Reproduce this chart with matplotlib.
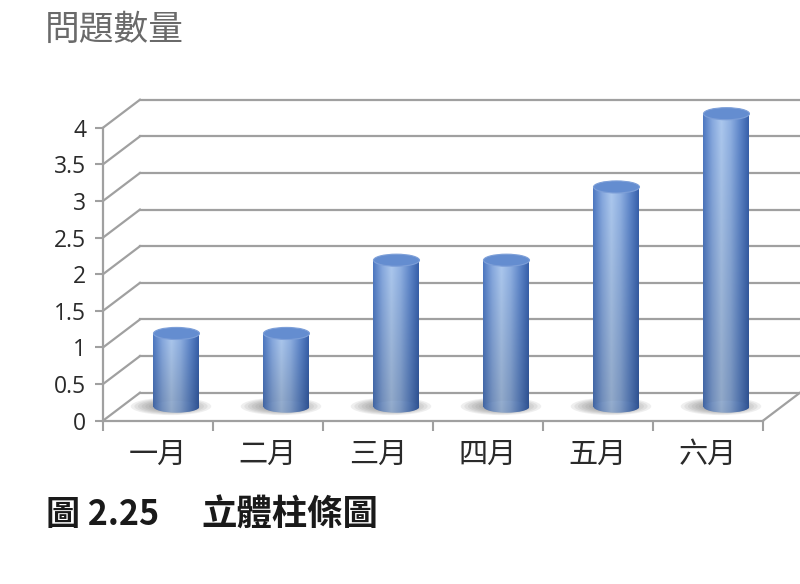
import numpy as np
import matplotlib
matplotlib.use("Agg")
import matplotlib.pyplot as plt
from matplotlib.patches import Rectangle, Ellipse
from matplotlib.colors import LinearSegmentedColormap

plt.rcParams['font.family'] = ['Noto Sans CJK TC', 'DejaVu Sans']

# ---- data ----
categories = ['一月', '二月', '三月', '四月', '五月', '六月']
values = [1, 1, 2, 2, 3, 4]
yticks = [0, 0.5, 1, 1.5, 2, 2.5, 3, 3.5, 4]
ytick_labels = ['0', '0.5', '1', '1.5', '2', '2.5', '3', '3.5', '4']
title_text = '問題數量'
caption_num = '圖 2.25'
caption_text = '立體柱條圖'

# ---- style / geometry ----
DX, DY = 0.336, 0.382        # depth offset (data units)
W = 0.418                    # cylinder width
EH = 0.165                   # ellipse height
grid_c = '#a0a0a0'

fig = plt.figure(figsize=(8, 5.84), dpi=100)
ax = fig.add_axes([103/800, (584-420.7)/584, 660/800, 293/584])
n = len(categories)
ax.set_xlim(0, n)
ax.set_ylim(0, 4)

# back wall grid + left diagonals
for v in yticks:
    ax.plot([DX, n + DX], [v + DY, v + DY], color=grid_c, lw=1.6, clip_on=False, zorder=1)
    ax.plot([0, DX], [v, v + DY], color=grid_c, lw=1.6, clip_on=False, zorder=1)
# floor right diagonal
ax.plot([n, n + DX], [0, DY], color=grid_c, lw=1.6, clip_on=False, zorder=1)

# gradient colormap for cylinders
hcmap = LinearSegmentedColormap.from_list(
    'cyl', ['#4d78c2', '#86a8de', '#acc8ee', '#8fb0e2', '#6088cb', '#3760ab'])
hx = np.linspace(0, 1, 200)
hcols = hcmap(hx)[:, :3]
vy = np.linspace(0, 1, 100)[:, None, None]   # 0 bottom ... 1 top
img = hcols[None, :, :] * (0.84 + 0.16 * vy)
img = np.clip(img, 0, 1)

for i, v in enumerate(values):
    c = i + 0.5 + DX / 2
    base = DY / 2
    top = v + DY / 2
    # shadow
    for k in range(8):
        s = 1 - k * 0.09
        ax.add_patch(Ellipse((c - 0.05, base + 0.005), W * 1.75 * s, EH * 1.45 * s,
                             facecolor='#6e6e6e', alpha=0.11, lw=0, zorder=2,
                             clip_on=False))
    # body
    rect = Rectangle((c - W / 2, base), W, top - base, transform=ax.transData)
    im = ax.imshow(img, extent=[c - W / 2, c + W / 2, base, top], origin='lower',
                   aspect='auto', zorder=3, interpolation='bilinear')
    im.set_clip_path(rect)
    # bottom ellipse
    ell = Ellipse((c, base), W, EH, transform=ax.transData)
    im2 = ax.imshow(img[:20], extent=[c - W / 2, c + W / 2, base - EH / 2, base + EH / 2],
                    origin='lower', aspect='auto', zorder=3, interpolation='bilinear')
    im2.set_clip_path(ell)
    # top ellipse
    ax.add_patch(Ellipse((c, top), W, EH, facecolor='#648dd0', edgecolor='#7d9fd8',
                         lw=0.8, zorder=4, clip_on=False))

ax.set_xlim(0, n)
ax.set_ylim(0, 4)

# spines / ticks
for s in ['top', 'right']:
    ax.spines[s].set_visible(False)
for s in ['left', 'bottom']:
    ax.spines[s].set_color(grid_c)
    ax.spines[s].set_linewidth(1.6)
    ax.spines[s].set_zorder(5)
ax.patch.set_visible(False)

ax.set_yticks(yticks)
ax.set_yticklabels(ytick_labels, family=['Open Sans', 'DejaVu Sans'])
ax.tick_params(axis='y', length=6, width=1.5, color=grid_c, pad=6,
               labelsize=16.5, labelcolor='#2a2a2a')

ax.set_xticks(np.arange(n) + 0.5)
ax.set_xticklabels(categories)
ax.set_xticks(np.arange(n + 1), minor=True)
ax.tick_params(axis='x', which='major', length=0, pad=14, labelsize=21,
               labelcolor='#2a2a2a')
ax.tick_params(axis='x', which='minor', length=7, width=1.5, color=grid_c)

# title and caption
fig.text(45/800, 1 - 30/584, title_text, fontsize=25, color='#6a6a6a',
         va='center', ha='left')
fig.text(46/800, 1 - 515/584, caption_num, fontsize=24.5, fontweight='bold',
         color='#1a1a1a', va='center', ha='left')
fig.text(201/800, 1 - 515/584, caption_text, fontsize=25.5, fontweight='bold',
         color='#1a1a1a', va='center', ha='left')

fig.savefig('out.png', dpi=100, facecolor='white')
